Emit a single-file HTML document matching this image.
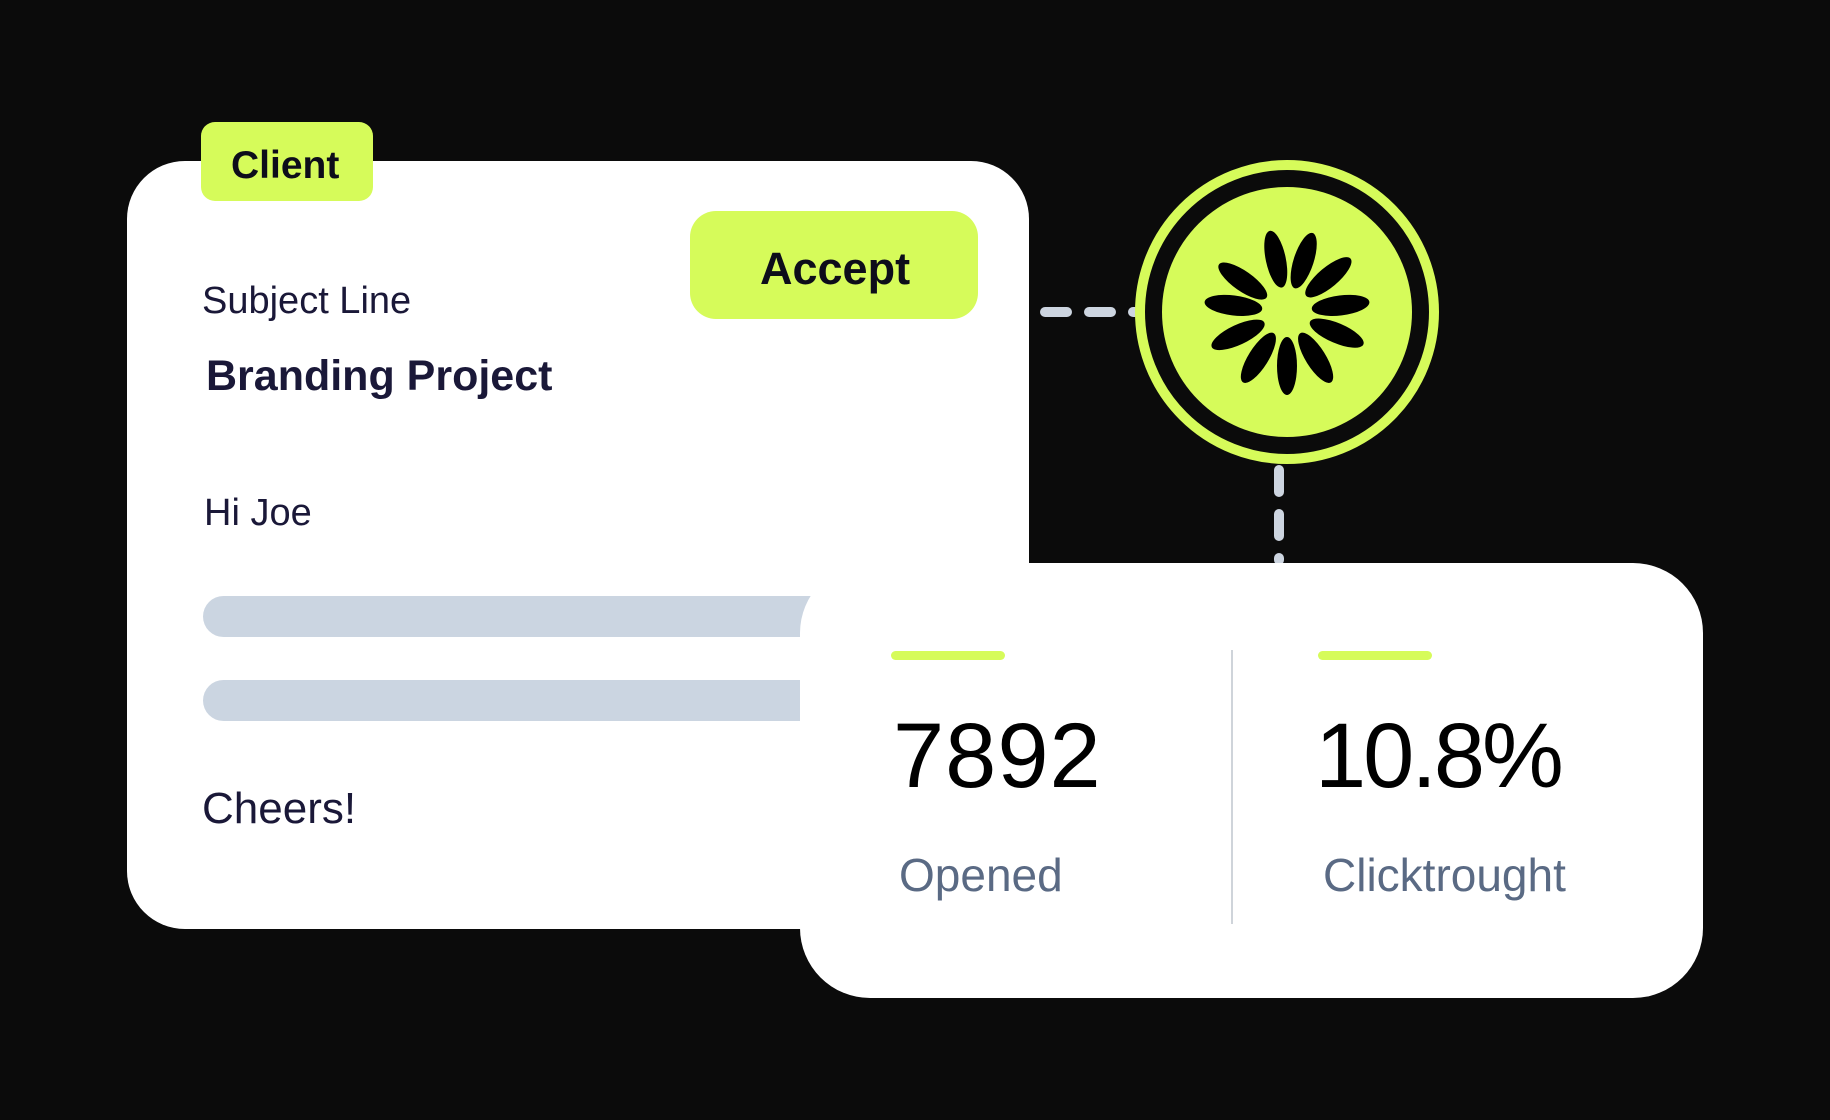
<!DOCTYPE html>
<html><head><meta charset="utf-8"><style>
html,body{margin:0;padding:0;background:#0b0b0b;width:1830px;height:1120px;overflow:hidden;font-family:"Liberation Sans",sans-serif;}
.abs{position:absolute;}
.t{position:absolute;white-space:nowrap;line-height:1;}
</style></head><body>
<svg class="abs" style="left:0;top:0" width="1830" height="1120">
  <line x1="1045" y1="312" x2="1140" y2="312" stroke="#cdd5e0" stroke-width="10" stroke-linecap="round" stroke-dasharray="22 22"/>
  <line x1="1279" y1="470" x2="1279" y2="560" stroke="#cdd5e0" stroke-width="10" stroke-linecap="round" stroke-dasharray="22 22"/>
  <circle cx="1287" cy="312" r="147" fill="#0b0b0b" stroke="#d6fb5a" stroke-width="10"/>
  <circle cx="1287" cy="312" r="125" fill="#d6fb5a"/>
  <g fill="#000">
    <ellipse cx="1287" cy="258" rx="10" ry="29" transform="rotate(-12 1287 312)"/>
    <ellipse cx="1287" cy="258" rx="10" ry="29" transform="rotate(18 1287 312)"/>
    <ellipse cx="1287" cy="258" rx="10" ry="29" transform="rotate(50 1287 312)"/>
    <ellipse cx="1287" cy="258" rx="10" ry="29" transform="rotate(83 1287 312)"/>
    <ellipse cx="1287" cy="258" rx="10" ry="29" transform="rotate(113 1287 312)"/>
    <ellipse cx="1287" cy="258" rx="10" ry="29" transform="rotate(148 1287 312)"/>
    <ellipse cx="1287" cy="258" rx="10" ry="29" transform="rotate(180 1287 312)"/>
    <ellipse cx="1287" cy="258" rx="10" ry="29" transform="rotate(212 1287 312)"/>
    <ellipse cx="1287" cy="258" rx="10" ry="29" transform="rotate(245 1287 312)"/>
    <ellipse cx="1287" cy="258" rx="10" ry="29" transform="rotate(277 1287 312)"/>
    <ellipse cx="1287" cy="258" rx="10" ry="29" transform="rotate(305 1287 312)"/>
  </g>
</svg>
<div class="abs" style="left:127px;top:161px;width:902px;height:768px;background:#fff;border-radius:58px;"></div>
<div class="abs" style="left:201px;top:122px;width:172px;height:79px;background:#d6fb5a;border-radius:14px;"></div>
<div class="t" style="left:231px;top:146px;font-size:39px;font-weight:bold;color:#0d0d1a;">Client</div>
<div class="abs" style="left:690px;top:211px;width:288px;height:108px;background:#d6fb5a;border-radius:26px;"></div>
<div class="t" style="left:760px;top:246px;font-size:45px;font-weight:bold;color:#0d0d1a;">Accept</div>
<div class="t" style="left:202px;top:282px;font-size:38px;color:#1a1838;">Subject Line</div>
<div class="t" style="left:206px;top:355px;font-size:43px;font-weight:bold;color:#1a1838;">Branding Project</div>
<div class="t" style="left:204px;top:494px;font-size:38px;color:#1a1838;">Hi Joe</div>
<div class="abs" style="left:203px;top:596px;width:640px;height:41px;background:#cbd5e1;border-radius:21px;"></div>
<div class="abs" style="left:203px;top:680px;width:640px;height:41px;background:#cbd5e1;border-radius:21px;"></div>
<div class="t" style="left:202px;top:787px;font-size:44px;color:#1a1838;">Cheers!</div>
<div class="abs" style="left:800px;top:563px;width:903px;height:435px;background:#fff;border-radius:70px;"></div>
<div class="abs" style="left:891px;top:651px;width:114px;height:9px;background:#d6fb5a;border-radius:5px;"></div>
<div class="abs" style="left:1318px;top:651px;width:114px;height:9px;background:#d6fb5a;border-radius:5px;"></div>
<div class="abs" style="left:1231px;top:650px;width:2px;height:274px;background:#cfd4da;"></div>
<div class="t" style="left:893px;top:710px;font-size:92px;color:#000;letter-spacing:1px;">7892</div>
<div class="t" style="left:1315px;top:710px;font-size:92px;color:#000;letter-spacing:-3px;">10.8%</div>
<div class="t" style="left:899px;top:852px;font-size:46px;color:#5a6a84;">Opened</div>
<div class="t" style="left:1323px;top:852px;font-size:46px;color:#5a6a84;">Clicktrought</div>
</body></html>
